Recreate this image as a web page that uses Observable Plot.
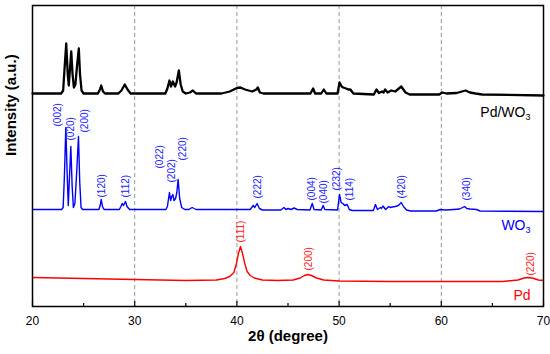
<!DOCTYPE html>
<html>
<head>
<meta charset="utf-8">
<script src="https://cdn.jsdelivr.net/npm/d3@7"></script>
<script src="https://cdn.jsdelivr.net/npm/@observablehq/plot@0.6"></script>
<style>
  html, body { margin: 0; padding: 0; background: #fff; }
  #chart { width: 550px; height: 354px; }
</style>
</head>
<body>
<div id="chart"></div>
<script>
// Pd/WO3 pattern (2θ in degrees, intensity in arbitrary units)
const pdwo3Theta = [20, 22.8, 23.0, 23.15, 23.3, 23.45, 23.55, 23.65, 23.79, 23.92, 24.05, 24.2, 24.35, 24.53, 24.65, 24.8, 25.0,
  26.4, 26.6, 26.72, 26.9, 27.1, 28.4, 28.7, 29.03, 29.3, 29.6, 33.0, 33.2, 33.4, 33.55, 33.73, 33.95, 34.1, 34.32, 34.5, 34.7, 35.0,
  35.4, 35.69, 36.0, 38.5, 39.3, 40.0, 40.35, 40.8, 41.5, 41.9, 42.05, 42.25, 42.6, 47.2, 47.46, 47.65, 48.25, 48.5, 48.75,
  49.85, 50.04, 50.25, 50.4, 50.69, 50.9, 51.1, 51.4, 53.4, 53.66, 53.9, 54.2, 54.35, 54.5, 54.75, 55.1, 55.5, 56.08, 56.5, 56.9,
  59.8, 60.09, 60.5, 61.5, 62.37, 62.8, 63.35, 64.0, 70];
const pdwo3Int = [213, 213, 216, 240, 263, 232, 221, 235, 255, 232, 219, 222, 240, 258, 232, 216, 213,
  213, 217, 221, 215, 213, 213, 216, 222, 217, 213, 213, 218, 226, 220, 225, 220, 224, 236, 222, 215, 213,
  214, 216, 213, 213, 215, 218.5, 219, 217, 215, 217, 219, 214, 213, 213, 218, 213, 213, 217, 213,
  213, 224, 220, 219, 218, 217, 217, 213, 212, 217, 213.5, 215, 214, 217, 214, 216, 215, 220, 214, 212,
  212, 214, 213, 213.5, 216, 214, 213, 212, 211];

// WO3 pattern
const wo3Theta = [20, 22.85, 23.0, 23.12, 23.26, 23.4, 23.5, 23.6, 23.75, 23.88, 24.0, 24.15, 24.3, 24.5, 24.62, 24.75, 24.9,
  26.5, 26.62, 26.72, 26.85, 27.0, 28.5, 28.65, 28.78, 28.9, 29.1, 29.25, 29.5, 33.05, 33.2, 33.4, 33.52, 33.62, 33.73, 33.85,
  34.0, 34.12, 34.25, 34.4, 34.6, 34.9, 35.3, 35.62, 36.0, 41.3, 41.6, 41.75, 41.98, 42.2, 42.5, 44.3, 44.6, 44.8, 45.0, 45.3,
  45.6, 45.9, 47.15, 47.37, 47.55, 48.25, 48.44, 48.6, 49.85, 50.04, 50.2, 50.36, 50.55, 50.79, 51.0, 51.3, 53.35, 53.56, 53.75,
  54.05, 54.15, 54.3, 54.55, 54.87, 55.0, 55.2, 55.5, 55.8, 56.08, 56.3, 56.6, 57.0, 59.5, 59.9, 60.4, 61.2, 61.8, 62.27, 62.5,
  62.8, 63.45, 63.8, 70];
const wo3Int = [97, 97, 99, 130, 179, 130, 101, 125, 160, 120, 99, 103, 130, 170, 125, 99, 97,
  97, 101, 107, 100, 97, 97, 100, 103, 101, 105, 100, 97, 97, 100, 114, 106, 110, 112, 106,
  108, 114, 127, 108, 99, 97, 97, 99, 97, 97, 101, 99, 103, 98, 96.5, 96.5, 99, 97, 98, 97,
  98.5, 97, 96.5, 103, 97, 96.5, 101, 97, 96.5, 112, 104, 103, 101, 102, 97, 96, 96, 102, 97,
  99, 98, 100.5, 97, 100, 99, 99.5, 100, 101, 104, 100, 96.5, 95.5, 95.5, 97, 96.5, 97, 97.5, 100, 98,
  97.5, 97, 95.5, 95];

// Pd pattern
const pdTheta = [20, 25, 30, 35, 38, 38.8, 39.3, 39.7, 39.96, 40.15, 40.35, 40.55, 40.77, 41.0, 41.3, 41.7, 42.5, 44,
  45.5, 46.2, 46.6, 46.94, 47.3, 47.8, 48.5, 50, 55, 60, 66, 67.5, 68.1, 68.45, 68.9, 69.5, 70];
const pdInt = [29, 28, 27, 26, 26.5, 28, 30, 34, 43, 53, 60, 53, 43, 35, 31, 28.5, 26.5, 26,
  26.5, 28.5, 31, 32, 31, 28.5, 26.5, 25.5, 25, 25, 25, 26.5, 28.5, 29, 28.5, 26.5, 26];

// Peak (hkl) labels
const wo3Hkl = ["(002)", "(020)", "(200)", "(120)", "(112)", "(022)", "(202)", "(220)", "(222)", "(004)", "(040)", "(232)", "(114)", "(420)", "(340)"];
const wo3HklTheta = [22.45, 23.7, 25.1, 26.75, 29.1, 32.5, 33.6, 34.75, 42.08, 47.3, 48.5, 49.75, 51.05, 56.17, 62.47];
const wo3HklInt = [180, 166, 174, 109, 109, 138, 124, 146, 108, 106, 103, 116, 106, 108, 106];
const pdHkl = ["(111)", "(200)", "(220)"];
const pdHklTheta = [40.4, 47.04, 68.73];
const pdHklInt = [64, 36, 31];

// Series names and their label heights
const seriesNames = ["Pd/WO3", "WO3", "Pd"];
const seriesColors = ["#000000", "#0000ff", "#ff0000"];
const seriesLabelInt = [194, 81, 11];

// Axis ticks
const majorTicks = [20, 30, 40, 50, 60, 70];
const minorTicks = [25, 35, 45, 55, 65];
const gridTicks = [30, 40, 50, 60];

const zip = (t, v) => t.map((d, i) => ({t: d, v: v[i]}));
const pdwo3 = zip(pdwo3Theta, pdwo3Int);
const wo3 = zip(wo3Theta, wo3Int);
const pd = zip(pdTheta, pdInt);
const wo3Labels = wo3Hkl.map((s, i) => ({s, t: wo3HklTheta[i], v: wo3HklInt[i]}));
const pdLabels = pdHkl.map((s, i) => ({s, t: pdHklTheta[i], v: pdHklInt[i]}));
const seriesLabels = seriesNames.map((s, i) => ({s, c: seriesColors[i], v: seriesLabelInt[i]}));

const font = "'Liberation Sans', Arial, Helvetica, sans-serif";

const plot = Plot.plot({
  width: 550,
  height: 354,
  marginTop: 5,
  marginBottom: 48,
  marginLeft: 32,
  marginRight: 7,
  style: {fontFamily: font, fontSize: "12px", color: "#000", background: "#fff"},
  x: {domain: [20, 70]},
  y: {domain: [0, 301], axis: null},
  marks: [
    Plot.ruleX(gridTicks, {stroke: "#999", strokeDasharray: "4,3", strokeWidth: 1}),
    Plot.line(pd, {x: "t", y: "v", stroke: "#ff0000", strokeWidth: 1.4}),
    Plot.line(wo3, {x: "t", y: "v", stroke: "#0000ff", strokeWidth: 1.4}),
    Plot.line(pdwo3, {x: "t", y: "v", stroke: "#000000", strokeWidth: 2.3}),
    Plot.text(wo3Labels, {x: "t", y: "v", text: "s", rotate: -90, textAnchor: "start", fill: "#2222ff", fontSize: 10}),
    Plot.text(pdLabels, {x: "t", y: "v", text: "s", rotate: -90, textAnchor: "start", fill: "#ff2222", fontSize: 10}),
    Plot.text(seriesLabels, {x: 70, y: "v", text: "s", fill: "c", textAnchor: "end", dx: -13, fontSize: 14}),
    Plot.ruleX(majorTicks, {y1: 0, y2: 5, stroke: "#000", strokeWidth: 1.2}),
    Plot.ruleX(minorTicks, {y1: 0, y2: 3, stroke: "#000", strokeWidth: 1.2}),
    Plot.axisX({ticks: majorTicks, tickSize: 0, tickPadding: 10, tickFormat: d => String(d), fontSize: 12, label: null}),
    Plot.text(["2θ (degree)"], {frameAnchor: "bottom", dy: 34, fontWeight: "bold", fontSize: 15}),
    Plot.text(["Intensity (a.u.)"], {frameAnchor: "left", rotate: -90, dx: -21, fontWeight: "bold", fontSize: 15}),
    Plot.frame({stroke: "#000", strokeWidth: 1.5})
  ]
});

// Render the "3" of WO3 as a subscript
d3.select(plot).selectAll("text").each(function() {
  const el = d3.select(this);
  if (el.selectAll("tspan").size() > 0) return;
  const s = el.text();
  if (s === "Pd/WO3" || s === "WO3") {
    el.text(s.slice(0, -1));
    el.append("tspan").attr("font-size", 9).attr("dy", "0.35em").text("3");
  }
});

document.getElementById("chart").appendChild(plot);
</script>
</body>
</html>
